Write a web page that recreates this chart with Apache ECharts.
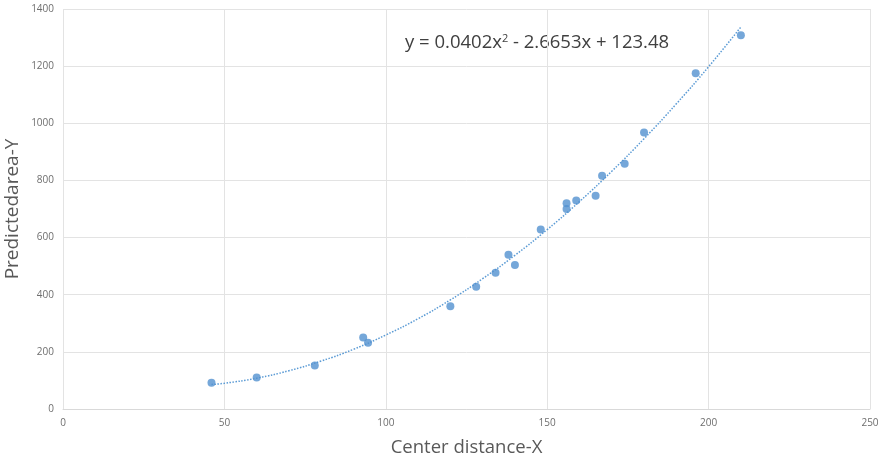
<!DOCTYPE html>
<html>
<head>
<meta charset="utf-8">
<script src="https://cdn.jsdelivr.net/npm/echarts@6/dist/echarts.min.js"></script>
<style>
html,body{margin:0;padding:0;background:#fff;}
#chart{width:879px;height:461px;}
</style>
</head>
<body>
<div id="chart"></div>
<script>
// Scatter data
var centerDistance = [46, 60, 78, 93, 94.5, 120, 128, 134, 138, 140, 148, 156, 156, 159, 165, 167, 174, 180, 196, 210];
var predictedArea = [92, 110, 152, 250, 232, 360, 428, 477, 540, 504, 628, 720, 700, 730, 746, 816, 858, 968, 1175, 1308];
// Dotted trendline points
var trendX = [46, 50, 60, 70, 80, 90, 100, 110, 120, 130, 140, 150, 160, 170, 180, 190, 200, 210];
var trendY = [86, 90, 108, 134, 168, 209, 259, 316, 382, 456, 538, 628, 726, 832, 946, 1068, 1198, 1337];
var xTicks = [0, 50, 100, 150, 200, 250];
var yTicks = [0, 200, 400, 600, 800, 1000, 1200, 1400];
var equationText = 'y = 0.0402x{sup|2} - 2.6653x + 123.48';

var chart = echarts.init(document.getElementById('chart'));
var font = '"Open Sans", "Liberation Sans", sans-serif';
chart.setOption({
  animation: false,
  backgroundColor: '#ffffff',
  grid: {left: 63, right: 9, top: 9, bottom: 52, containLabel: false, outerBoundsMode: 'none'},
  xAxis: {
    type: 'value',
    min: xTicks[0], max: xTicks[xTicks.length - 1], interval: 50,
    name: 'Center distance-X',
    nameLocation: 'middle',
    nameGap: 29,
    nameMoveOverlap: false,
    nameTextStyle: {fontFamily: font, fontSize: 18.5, color: '#595959'},
    axisLine: {show: true, lineStyle: {color: '#d9d9d9', width: 1}},
    axisTick: {show: false},
    axisLabel: {fontFamily: font, fontSize: 10, color: '#6e6e6e', margin: 9,
      formatter: function (v) { return String(v); }},
    splitLine: {show: true, lineStyle: {color: '#e3e3e3', width: 1}}
  },
  yAxis: {
    type: 'value',
    min: yTicks[0], max: yTicks[yTicks.length - 1], interval: 200,
    name: 'Predictedarea-Y',
    nameLocation: 'middle',
    nameGap: 41,
    nameMoveOverlap: false,
    nameTextStyle: {fontFamily: font, fontSize: 19, color: '#595959'},
    axisLine: {show: false},
    axisTick: {show: false},
    axisLabel: {fontFamily: font, fontSize: 10, color: '#6e6e6e', margin: 9,
      formatter: function (v) { return String(v); }},
    splitLine: {show: true, lineStyle: {color: '#e3e3e3', width: 1}}
  },
  graphic: [{
    type: 'text',
    left: 405, top: 33,
    style: {
      text: equationText,
      fontFamily: font, fontSize: 18.5, fill: '#404040',
      rich: {sup: {fontSize: 11, verticalAlign: 'top', fill: '#404040', fontFamily: font, padding: [0,0,9,0]}}
    }
  }],
  series: [{
    type: 'line',
    data: trendX.map(function (x, i) { return [x, trendY[i]]; }),
    smooth: true,
    showSymbol: false,
    lineStyle: {color: '#5b9bd5', width: 1.5, type: [1.5, 1.5]},
    z: 1
  }, {
    type: 'scatter',
    data: centerDistance.map(function (x, i) { return [x, predictedArea[i]]; }),
    symbol: 'circle',
    symbolSize: 8,
    itemStyle: {color: '#5291d0'},
    z: 2
  }]
});
</script>
</body>
</html>
